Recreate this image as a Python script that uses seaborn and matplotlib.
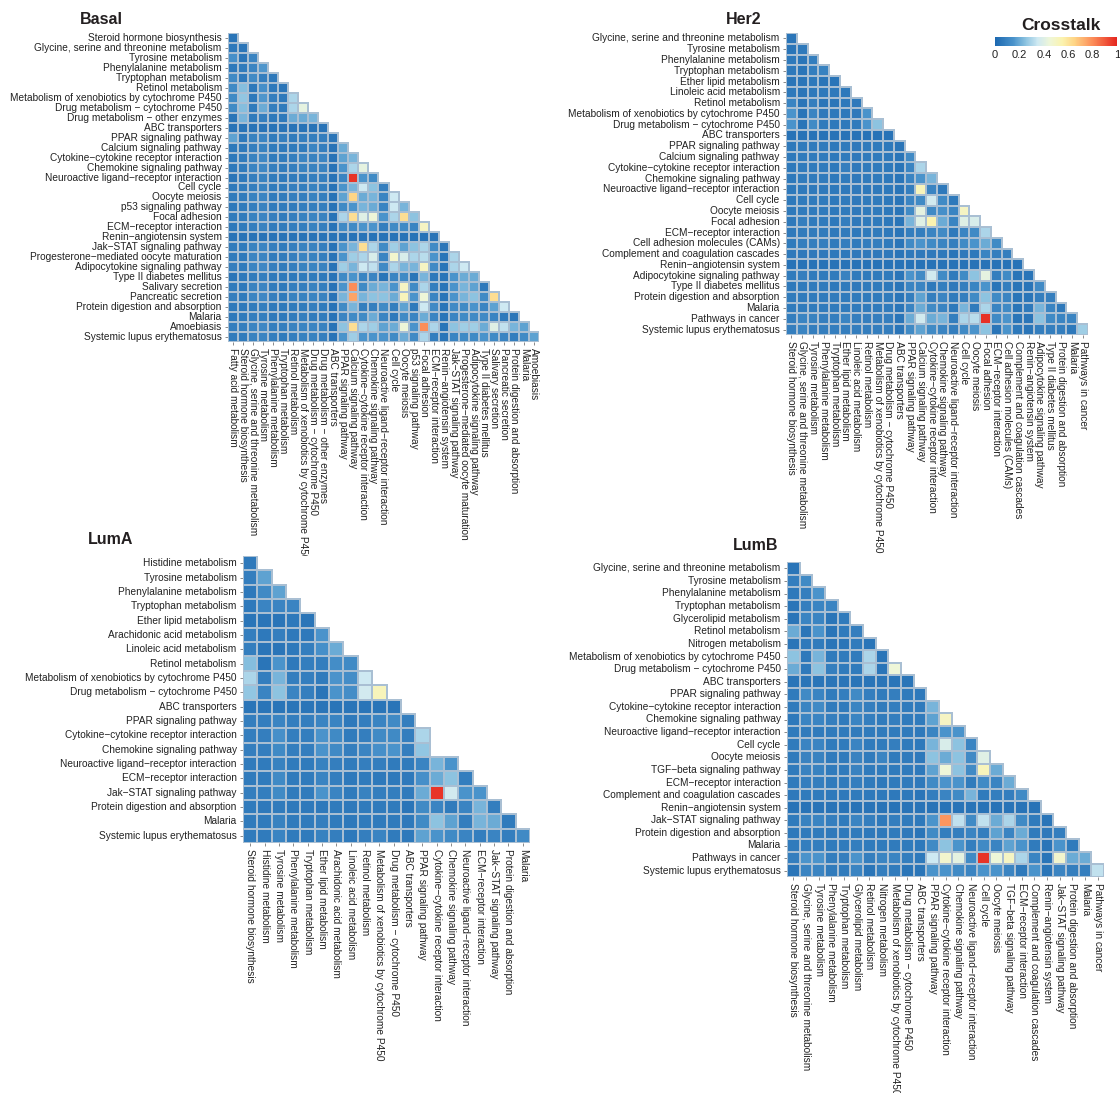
import numpy as np
import pandas as pd
import matplotlib
matplotlib.use("Agg")
import matplotlib.pyplot as plt
from matplotlib.colors import LinearSegmentedColormap, to_rgba
import seaborn as sns

sns.set_theme(style="white")
plt.rcParams["font.family"] = ["Liberation Sans", "DejaVu Sans"]

# ---------------------------------------------------------------- pathways
basal_paths = [
    "Fatty acid metabolism", "Steroid hormone biosynthesis",
    "Glycine, serine and threonine metabolism", "Tyrosine metabolism",
    "Phenylalanine metabolism", "Tryptophan metabolism", "Retinol metabolism",
    "Metabolism of xenobiotics by cytochrome P450",
    "Drug metabolism \u2212 cytochrome P450", "Drug metabolism \u2212 other enzymes",
    "ABC transporters", "PPAR signaling pathway", "Calcium signaling pathway",
    "Cytokine\u2212cytokine receptor interaction", "Chemokine signaling pathway",
    "Neuroactive ligand\u2212receptor interaction", "Cell cycle", "Oocyte meiosis",
    "p53 signaling pathway", "Focal adhesion", "ECM\u2212receptor interaction",
    "Renin\u2212angiotensin system", "Jak\u2212STAT signaling pathway",
    "Progesterone\u2212mediated oocyte maturation", "Adipocytokine signaling pathway",
    "Type II diabetes mellitus", "Salivary secretion", "Pancreatic secretion",
    "Protein digestion and absorption", "Malaria", "Amoebiasis",
    "Systemic lupus erythematosus",
]

her2_paths = [
    "Steroid hormone biosynthesis", "Glycine, serine and threonine metabolism",
    "Tyrosine metabolism", "Phenylalanine metabolism", "Tryptophan metabolism",
    "Ether lipid metabolism", "Linoleic acid metabolism", "Retinol metabolism",
    "Metabolism of xenobiotics by cytochrome P450",
    "Drug metabolism \u2212 cytochrome P450", "ABC transporters",
    "PPAR signaling pathway", "Calcium signaling pathway",
    "Cytokine\u2212cytokine receptor interaction", "Chemokine signaling pathway",
    "Neuroactive ligand\u2212receptor interaction", "Cell cycle", "Oocyte meiosis",
    "Focal adhesion", "ECM\u2212receptor interaction", "Cell adhesion molecules (CAMs)",
    "Complement and coagulation cascades", "Renin\u2212angiotensin system",
    "Adipocytokine signaling pathway", "Type II diabetes mellitus",
    "Protein digestion and absorption", "Malaria", "Pathways in cancer",
    "Systemic lupus erythematosus",
]

luma_paths = [
    "Steroid hormone biosynthesis", "Histidine metabolism", "Tyrosine metabolism",
    "Phenylalanine metabolism", "Tryptophan metabolism", "Ether lipid metabolism",
    "Arachidonic acid metabolism", "Linoleic acid metabolism", "Retinol metabolism",
    "Metabolism of xenobiotics by cytochrome P450",
    "Drug metabolism \u2212 cytochrome P450", "ABC transporters",
    "PPAR signaling pathway", "Cytokine\u2212cytokine receptor interaction",
    "Chemokine signaling pathway", "Neuroactive ligand\u2212receptor interaction",
    "ECM\u2212receptor interaction", "Jak\u2212STAT signaling pathway",
    "Protein digestion and absorption", "Malaria", "Systemic lupus erythematosus",
]

lumb_paths = [
    "Steroid hormone biosynthesis", "Glycine, serine and threonine metabolism",
    "Tyrosine metabolism", "Phenylalanine metabolism", "Tryptophan metabolism",
    "Glycerolipid metabolism", "Retinol metabolism", "Nitrogen metabolism",
    "Metabolism of xenobiotics by cytochrome P450",
    "Drug metabolism \u2212 cytochrome P450", "ABC transporters",
    "PPAR signaling pathway", "Cytokine\u2212cytokine receptor interaction",
    "Chemokine signaling pathway", "Neuroactive ligand\u2212receptor interaction",
    "Cell cycle", "Oocyte meiosis", "TGF\u2212beta signaling pathway",
    "ECM\u2212receptor interaction", "Complement and coagulation cascades",
    "Renin\u2212angiotensin system", "Jak\u2212STAT signaling pathway",
    "Protein digestion and absorption", "Malaria", "Pathways in cancer",
    "Systemic lupus erythematosus",
]

# ------------------------------------------- crosstalk (lower triangle rows)
basal_rows = [
    [0.05],
    [0.06, 0.05],
    [0.14, 0.05, 0.10],
    [0.06, 0.07, 0.10, 0.16],
    [0.12, 0.06, 0.12, 0.08, 0.06],
    [0.12, 0.24, 0.06, 0.14, 0.06, 0.05],
    [0.12, 0.26, 0.06, 0.16, 0.08, 0.06, 0.30],
    [0.12, 0.24, 0.07, 0.20, 0.08, 0.07, 0.30, 0.42],
    [0.05, 0.22, 0.07, 0.08, 0.06, 0.06, 0.20, 0.20, 0.22],
    [0.04, 0.04, 0.04, 0.04, 0.04, 0.04, 0.04, 0.04, 0.04, 0.04],
    [0.18, 0.06, 0.09, 0.10, 0.07, 0.08, 0.07, 0.08, 0.08, 0.08, 0.05],
    [0.06, 0.06, 0.08, 0.09, 0.07, 0.06, 0.07, 0.07, 0.10, 0.08, 0.04, 0.20],
    [0.06, 0.07, 0.09, 0.11, 0.07, 0.07, 0.08, 0.10, 0.09, 0.10, 0.04, 0.18, 0.22],
    [0.06, 0.07, 0.10, 0.11, 0.08, 0.07, 0.08, 0.09, 0.09, 0.09, 0.04, 0.15, 0.30,
     0.42],
    [0.05, 0.06, 0.08, 0.09, 0.07, 0.06, 0.07, 0.07, 0.08, 0.08, 0.04, 0.10, 0.97,
     0.15, 0.12],
    [0.06, 0.07, 0.08, 0.09, 0.07, 0.07, 0.08, 0.08, 0.09, 0.08, 0.04, 0.15, 0.22,
     0.35, 0.25, 0.08],
    [0.07, 0.07, 0.09, 0.10, 0.07, 0.07, 0.08, 0.08, 0.09, 0.08, 0.04, 0.18, 0.65,
     0.20, 0.22, 0.10, 0.35],
    [0.06, 0.07, 0.08, 0.09, 0.07, 0.07, 0.07, 0.08, 0.08, 0.08, 0.04, 0.12, 0.15,
     0.22, 0.20, 0.10, 0.35, 0.22],
    [0.07, 0.07, 0.09, 0.10, 0.08, 0.07, 0.08, 0.09, 0.10, 0.09, 0.04, 0.30, 0.62,
     0.40, 0.45, 0.15, 0.30, 0.62, 0.25],
    [0.06, 0.07, 0.08, 0.09, 0.07, 0.07, 0.08, 0.08, 0.09, 0.08, 0.04, 0.12, 0.12,
     0.15, 0.15, 0.08, 0.12, 0.12, 0.10, 0.50],
    [0.04, 0.04, 0.04, 0.04, 0.04, 0.04, 0.04, 0.04, 0.04, 0.04, 0.04, 0.04, 0.04,
     0.04, 0.04, 0.04, 0.04, 0.04, 0.04, 0.04, 0.04],
    [0.07, 0.07, 0.09, 0.10, 0.08, 0.07, 0.08, 0.09, 0.09, 0.08, 0.04, 0.15, 0.22,
     0.62, 0.30, 0.12, 0.28, 0.18, 0.25, 0.30, 0.12, 0.05],
    [0.07, 0.06, 0.10, 0.10, 0.07, 0.07, 0.08, 0.10, 0.09, 0.08, 0.04, 0.15, 0.28,
     0.30, 0.38, 0.10, 0.48, 0.38, 0.30, 0.32, 0.15, 0.05, 0.30],
    [0.08, 0.07, 0.10, 0.11, 0.08, 0.07, 0.08, 0.09, 0.10, 0.09, 0.04, 0.28, 0.22,
     0.35, 0.33, 0.12, 0.30, 0.22, 0.22, 0.50, 0.12, 0.05, 0.30, 0.35],
    [0.05, 0.06, 0.07, 0.08, 0.06, 0.06, 0.06, 0.07, 0.07, 0.06, 0.04, 0.12, 0.15,
     0.10, 0.10, 0.05, 0.10, 0.12, 0.05, 0.22, 0.06, 0.05, 0.15, 0.20, 0.20],
    [0.07, 0.06, 0.09, 0.10, 0.07, 0.06, 0.08, 0.08, 0.09, 0.08, 0.04, 0.15, 0.80,
     0.12, 0.20, 0.22, 0.15, 0.50, 0.12, 0.30, 0.08, 0.05, 0.15, 0.22, 0.18, 0.06],
    [0.08, 0.07, 0.10, 0.11, 0.08, 0.07, 0.09, 0.09, 0.10, 0.09, 0.04, 0.22, 0.75,
     0.22, 0.25, 0.25, 0.20, 0.52, 0.15, 0.45, 0.10, 0.05, 0.15, 0.22, 0.25, 0.12,
     0.62],
    [0.06, 0.06, 0.07, 0.08, 0.06, 0.06, 0.07, 0.07, 0.08, 0.07, 0.04, 0.12, 0.22,
     0.08, 0.08, 0.12, 0.08, 0.18, 0.06, 0.35, 0.12, 0.05, 0.12, 0.12, 0.15, 0.10,
     0.18, 0.35],
    [0.06, 0.07, 0.08, 0.08, 0.06, 0.06, 0.07, 0.08, 0.07, 0.07, 0.04, 0.10, 0.12,
     0.12, 0.20, 0.10, 0.06, 0.12, 0.10, 0.20, 0.10, 0.05, 0.10, 0.12, 0.12, 0.12,
     0.10, 0.06, 0.05],
    [0.08, 0.08, 0.10, 0.11, 0.08, 0.08, 0.09, 0.10, 0.10, 0.09, 0.04, 0.25, 0.62,
     0.30, 0.28, 0.18, 0.20, 0.45, 0.15, 0.80, 0.30, 0.05, 0.25, 0.28, 0.28, 0.20,
     0.40, 0.33, 0.22, 0.18],
    [0.07, 0.07, 0.09, 0.10, 0.08, 0.07, 0.08, 0.09, 0.09, 0.08, 0.04, 0.15, 0.28,
     0.15, 0.15, 0.15, 0.12, 0.20, 0.12, 0.30, 0.08, 0.05, 0.10, 0.12, 0.12, 0.15,
     0.12, 0.10, 0.08, 0.12, 0.18],
]

her2_rows = [
    [0.05],
    [0.05, 0.06],
    [0.06, 0.05, 0.08],
    [0.06, 0.05, 0.08, 0.09],
    [0.05, 0.05, 0.06, 0.05, 0.05],
    [0.06, 0.05, 0.06, 0.06, 0.06, 0.06],
    [0.10, 0.05, 0.08, 0.05, 0.05, 0.06, 0.06],
    [0.15, 0.05, 0.10, 0.06, 0.06, 0.06, 0.06, 0.15],
    [0.15, 0.05, 0.12, 0.07, 0.06, 0.06, 0.07, 0.15, 0.25],
    [0.04, 0.04, 0.04, 0.04, 0.04, 0.04, 0.04, 0.04, 0.04, 0.04],
    [0.06, 0.07, 0.07, 0.07, 0.06, 0.07, 0.06, 0.07, 0.07, 0.06, 0.05],
    [0.06, 0.07, 0.07, 0.07, 0.06, 0.07, 0.06, 0.07, 0.07, 0.06, 0.05, 0.12],
    [0.06, 0.07, 0.07, 0.07, 0.06, 0.08, 0.06, 0.07, 0.07, 0.06, 0.05, 0.10, 0.30],
    [0.06, 0.07, 0.07, 0.07, 0.06, 0.07, 0.06, 0.07, 0.07, 0.06, 0.05, 0.10, 0.15,
     0.22],
    [0.06, 0.06, 0.06, 0.06, 0.06, 0.06, 0.06, 0.06, 0.06, 0.06, 0.05, 0.08, 0.52,
     0.10, 0.06],
    [0.06, 0.07, 0.07, 0.07, 0.06, 0.07, 0.06, 0.07, 0.07, 0.06, 0.05, 0.10, 0.12,
     0.36, 0.12, 0.06],
    [0.06, 0.07, 0.07, 0.07, 0.06, 0.07, 0.06, 0.07, 0.07, 0.06, 0.05, 0.12, 0.42,
     0.12, 0.14, 0.10, 0.50],
    [0.06, 0.08, 0.07, 0.07, 0.06, 0.08, 0.06, 0.07, 0.07, 0.06, 0.05, 0.22, 0.40,
     0.55, 0.20, 0.10, 0.40, 0.38],
    [0.06, 0.07, 0.07, 0.07, 0.06, 0.07, 0.06, 0.07, 0.07, 0.06, 0.05, 0.08, 0.08,
     0.10, 0.12, 0.06, 0.10, 0.12, 0.30],
    [0.07, 0.08, 0.08, 0.08, 0.07, 0.08, 0.07, 0.08, 0.08, 0.07, 0.05, 0.12, 0.15,
     0.12, 0.10, 0.08, 0.12, 0.15, 0.20, 0.12],
    [0.06, 0.06, 0.06, 0.06, 0.06, 0.06, 0.06, 0.06, 0.06, 0.06, 0.05, 0.06, 0.06,
     0.06, 0.06, 0.05, 0.06, 0.06, 0.10, 0.08, 0.08],
    [0.04, 0.04, 0.04, 0.04, 0.04, 0.04, 0.04, 0.04, 0.04, 0.04, 0.04, 0.04, 0.04,
     0.04, 0.04, 0.04, 0.04, 0.04, 0.04, 0.04, 0.04, 0.04],
    [0.07, 0.08, 0.07, 0.07, 0.07, 0.09, 0.07, 0.07, 0.07, 0.07, 0.05, 0.15, 0.12,
     0.36, 0.12, 0.07, 0.12, 0.25, 0.42, 0.08, 0.12, 0.05, 0.05],
    [0.06, 0.07, 0.07, 0.07, 0.06, 0.07, 0.06, 0.07, 0.07, 0.06, 0.05, 0.10, 0.10,
     0.06, 0.08, 0.06, 0.08, 0.10, 0.15, 0.05, 0.08, 0.05, 0.05, 0.12],
    [0.07, 0.07, 0.07, 0.07, 0.07, 0.07, 0.07, 0.07, 0.07, 0.07, 0.05, 0.08, 0.18,
     0.08, 0.10, 0.07, 0.08, 0.12, 0.25, 0.12, 0.10, 0.05, 0.05, 0.08, 0.08],
    [0.07, 0.07, 0.07, 0.07, 0.07, 0.07, 0.07, 0.07, 0.07, 0.07, 0.05, 0.10, 0.20,
     0.12, 0.10, 0.06, 0.22, 0.07, 0.30, 0.10, 0.12, 0.05, 0.06, 0.22, 0.10, 0.06],
    [0.08, 0.10, 0.09, 0.08, 0.08, 0.10, 0.08, 0.08, 0.08, 0.08, 0.05, 0.20, 0.36,
     0.20, 0.22, 0.08, 0.30, 0.32, 0.98, 0.12, 0.15, 0.05, 0.05, 0.25, 0.12, 0.10,
     0.10],
    [0.08, 0.10, 0.08, 0.08, 0.08, 0.08, 0.08, 0.08, 0.08, 0.08, 0.05, 0.12, 0.18,
     0.12, 0.10, 0.08, 0.12, 0.15, 0.25, 0.05, 0.15, 0.06, 0.05, 0.08, 0.08, 0.08,
     0.06, 0.28],
]

luma_rows = [
    [0.06],
    [0.08, 0.18],
    [0.06, 0.12, 0.18],
    [0.06, 0.10, 0.10, 0.10],
    [0.05, 0.05, 0.05, 0.06, 0.05],
    [0.08, 0.06, 0.08, 0.06, 0.06, 0.15],
    [0.08, 0.05, 0.05, 0.06, 0.08, 0.14, 0.20],
    [0.24, 0.05, 0.15, 0.06, 0.08, 0.08, 0.13, 0.12],
    [0.30, 0.08, 0.22, 0.08, 0.08, 0.07, 0.15, 0.13, 0.35],
    [0.26, 0.10, 0.25, 0.10, 0.08, 0.05, 0.15, 0.13, 0.36, 0.52],
    [0.05, 0.05, 0.05, 0.05, 0.05, 0.05, 0.05, 0.05, 0.05, 0.05, 0.05],
    [0.08, 0.08, 0.10, 0.08, 0.08, 0.10, 0.10, 0.06, 0.08, 0.10, 0.12, 0.08],
    [0.08, 0.08, 0.14, 0.08, 0.08, 0.15, 0.12, 0.07, 0.08, 0.12, 0.12, 0.08, 0.30],
    [0.08, 0.08, 0.12, 0.08, 0.08, 0.15, 0.12, 0.08, 0.10, 0.14, 0.15, 0.08, 0.26,
     None],
    [0.07, 0.07, 0.09, 0.07, 0.07, 0.09, 0.08, 0.07, 0.08, 0.08, 0.07, 0.07, 0.10,
     0.22, 0.15],
    [0.07, 0.07, 0.12, 0.07, 0.07, 0.10, 0.08, 0.06, 0.07, 0.06, 0.06, 0.06, 0.14,
     0.20, 0.25, 0.08],
    [0.08, 0.08, 0.12, 0.07, 0.07, 0.15, 0.10, 0.07, 0.09, 0.08, 0.08, 0.07, 0.20,
     0.97, 0.36, 0.15, 0.15],
    [0.07, 0.06, 0.07, 0.06, 0.06, 0.06, 0.07, 0.06, 0.07, 0.07, 0.07, 0.05, 0.12,
     0.10, 0.07, 0.10, 0.22, 0.08],
    [0.07, 0.07, 0.09, 0.07, 0.07, 0.08, 0.07, 0.06, 0.07, 0.07, 0.07, 0.06, 0.12,
     0.25, 0.18, 0.08, 0.22, 0.20, 0.07],
    [0.07, 0.07, 0.10, 0.07, 0.07, 0.09, 0.08, 0.06, 0.08, 0.10, 0.07, 0.06, 0.18,
     0.15, 0.12, 0.10, 0.08, 0.10, 0.08, 0.12],
]

lumb_rows = [
    [0.05],
    [0.08, 0.12],
    [0.06, 0.08, 0.15],
    [0.05, 0.08, 0.10, 0.10],
    [0.05, 0.10, 0.10, 0.05, 0.07],
    [0.20, 0.05, 0.15, 0.05, 0.07, 0.08],
    [0.05, 0.06, 0.07, 0.05, 0.05, 0.07, 0.05],
    [0.25, 0.06, 0.22, 0.07, 0.07, 0.07, 0.30, 0.05],
    [0.20, 0.06, 0.25, 0.08, 0.07, 0.07, 0.30, 0.05, 0.45],
    [0.05, 0.05, 0.05, 0.05, 0.05, 0.05, 0.05, 0.05, 0.05, 0.05],
    [0.07, 0.12, 0.10, 0.07, 0.08, 0.12, 0.08, 0.07, 0.08, 0.07, 0.06],
    [0.07, 0.10, 0.12, 0.07, 0.07, 0.10, 0.08, 0.07, 0.08, 0.07, 0.07, 0.22],
    [0.06, 0.10, 0.10, 0.08, 0.07, 0.10, 0.08, 0.07, 0.08, 0.07, 0.07, 0.18, 0.50],
    [0.07, 0.07, 0.07, 0.07, 0.07, 0.07, 0.07, 0.07, 0.07, 0.07, 0.06, 0.10, 0.15,
     0.15],
    [0.07, 0.10, 0.10, 0.07, 0.07, 0.10, 0.07, 0.07, 0.08, 0.07, 0.06, 0.22, 0.38,
     0.25, 0.10],
    [0.07, 0.09, 0.09, 0.07, 0.07, 0.09, 0.07, 0.10, 0.07, 0.07, 0.06, 0.25, 0.20,
     0.25, 0.12, 0.40],
    [0.07, 0.09, 0.09, 0.07, 0.07, 0.09, 0.07, 0.07, 0.07, 0.07, 0.06, 0.18, 0.45,
     0.25, 0.12, 0.52, 0.20],
    [0.07, 0.08, 0.08, 0.07, 0.07, 0.08, 0.07, 0.06, 0.07, 0.07, 0.06, 0.12, 0.15,
     0.15, 0.07, 0.12, 0.10, 0.20],
    [0.06, 0.07, 0.07, 0.06, 0.06, 0.07, 0.06, 0.06, 0.06, 0.06, 0.05, 0.08, 0.10,
     0.12, 0.22, 0.07, 0.08, 0.08, 0.12],
    [0.04, 0.04, 0.04, 0.04, 0.04, 0.04, 0.04, 0.04, 0.04, 0.04, 0.04, 0.04, 0.04,
     0.04, 0.04, 0.04, 0.04, 0.04, 0.04, 0.04],
    [0.07, 0.09, 0.10, 0.08, 0.07, 0.10, 0.08, 0.06, 0.08, 0.07, 0.06, 0.15, 0.78,
     0.33, 0.12, 0.33, 0.20, 0.30, 0.12, 0.07, 0.05],
    [0.06, 0.07, 0.07, 0.06, 0.06, 0.07, 0.06, 0.06, 0.07, 0.06, 0.05, 0.12, 0.08,
     0.08, 0.10, 0.08, 0.18, 0.10, 0.20, 0.07, 0.06, 0.08],
    [0.07, 0.08, 0.08, 0.07, 0.07, 0.08, 0.07, 0.07, 0.07, 0.07, 0.06, 0.12, 0.25,
     0.15, 0.08, 0.12, 0.10, 0.18, 0.15, 0.07, 0.05, 0.15, 0.07],
    [0.08, 0.15, 0.15, 0.08, 0.08, 0.15, 0.08, 0.10, 0.10, 0.08, 0.06, 0.35, 0.48,
     0.42, 0.12, 0.97, 0.45, 0.50, 0.30, 0.10, 0.05, 0.48, 0.20, 0.20],
    [0.05, 0.10, 0.10, 0.07, 0.07, 0.10, 0.05, 0.08, 0.07, 0.05, 0.05, 0.15, 0.15,
     0.12, 0.10, 0.15, 0.15, 0.10, 0.06, 0.15, 0.05, 0.10, 0.08, 0.08, 0.33],
]

crosstalk_colors = ["#1c68b0", "#4a93cb", "#8cc3e0", "#cfe9f2", "#eef6d8",
                    "#fbf3b0", "#fed586", "#fc8d59", "#e5261f"]
crosstalk_stops = [0.0, 0.15, 0.25, 0.35, 0.45, 0.55, 0.65, 0.8, 1.0]
cmap = LinearSegmentedColormap.from_list(
    "crosstalk", list(zip(crosstalk_stops, crosstalk_colors)))

W, H = 1120, 1093
fig = plt.figure(figsize=(W / 100, H / 100), dpi=100)
fig.patch.set_facecolor("white")


def px_axes(x0, y0, x1, y1):
    return fig.add_axes([x0 / W, 1 - y1 / H, (x1 - x0) / W, (y1 - y0) / H])


def triangle_frame(paths, rows):
    n = len(rows)
    mat = np.full((n, n), np.nan)
    for i, r in enumerate(rows):
        assert len(r) == i + 1, (i, len(r))
        mat[i, : i + 1] = [np.nan if v is None else v for v in r]
    return pd.DataFrame(mat, index=paths[1:], columns=paths[:-1])


panels = [
    ("Basal", basal_paths, basal_rows, (228, 33, 539, 342), (80, 20)),
    ("Her2", her2_paths, her2_rows, (786, 33, 1088, 335), (726, 20)),
    ("LumA", luma_paths, luma_rows, (243, 556, 530, 843), (88, 540)),
    ("LumB", lumb_paths, lumb_rows, (787, 562, 1104, 877), (733, 546)),
]

label_color = "#222222"
grid_color = "#a9bfd3"
mesh = None
for name, paths, rows, box, tpos in panels:
    df = triangle_frame(paths, rows)
    ax = px_axes(*box)
    sns.heatmap(df, ax=ax, cmap=cmap, vmin=0, vmax=1, cbar=False,
                linewidths=0.3, linecolor=grid_color,
                xticklabels=True, yticklabels=True)
    mesh = ax.collections[0]
    # cell borders only around cells that carry a value
    empty = np.isnan(df.to_numpy()).ravel()
    edges = np.tile(to_rgba(grid_color), (empty.size, 1))
    edges[empty] = (0, 0, 0, 0)
    mesh.set_edgecolor(edges)

    ax.tick_params(axis="both", length=2.5, width=0.6, color="#777777",
                   pad=2, labelsize=7.3, labelcolor=label_color,
                   left=True, bottom=True)
    plt.setp(ax.get_yticklabels(), rotation=0, ha="right", va="center")
    plt.setp(ax.get_xticklabels(), rotation=270, ha="center", va="top")
    for s in ax.spines.values():
        s.set_visible(False)
    fig.text(tpos[0] / W, 1 - tpos[1] / H, name, ha="left", va="center",
             fontsize=11.5, fontweight="bold", color="#231f20")

# shared colour scale
cax = px_axes(995, 37, 1117, 46)
cbar = fig.colorbar(mesh, cax=cax, orientation="horizontal")
cbar.outline.set_visible(False)
cbar.set_ticks([0, 0.2, 0.4, 0.6, 0.8, 1.0])
cbar.set_ticklabels(["0", "0.2", "0.4", "0.6", "0.8", "1"])
cax.tick_params(length=0, labelsize=8, pad=3, labelcolor=label_color)
fig.text(1061 / W, 1 - 25 / H, "Crosstalk", ha="center", va="center",
         fontsize=12.5, fontweight="bold", color="#231f20")

fig.savefig("out.png", dpi=100, facecolor="white")
